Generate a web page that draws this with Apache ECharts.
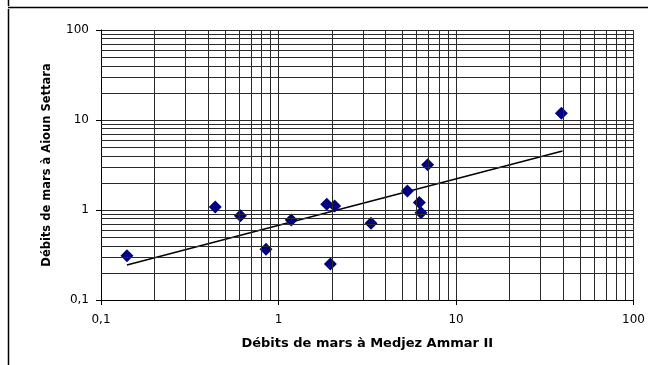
<!DOCTYPE html>
<html>
<head>
<meta charset="utf-8">
<script src="https://cdn.jsdelivr.net/npm/echarts@6/dist/echarts.min.js"></script>
<style>
html,body{margin:0;padding:0;background:#fff;}
#chart{width:648px;height:365px;}
</style>
</head>
<body>
<div id="chart"></div>
<script>
// Data
const medjezAmmar = [0.14, 0.44, 0.61, 0.85, 1.18, 1.87, 2.07, 1.96, 3.32, 5.32, 6.21, 6.35, 6.92, 39.2];
const aiounSettara = [0.31, 1.08, 0.865, 0.366, 0.774, 1.16, 1.11, 0.251, 0.711, 1.63, 1.21, 0.933, 3.19, 11.9];
const trendX = [0.14, 39.8];
const trendY = [0.245, 4.53];
const decades = [0.1, 1, 10];
const minorMultipliers = [2, 3, 4, 5, 6, 7, 8, 9];
const xTitle = 'Débits de mars à Medjez Ammar II';
const yTitle = 'Débits de mars à Aioun Settara';

const minorValues = [];
decades.forEach(d => minorMultipliers.forEach(m => minorValues.push(+(d * m).toPrecision(3))));

const points = medjezAmmar.map((x, i) => [x, aiounSettara[i]]);
const trend = trendX.map((x, i) => [x, trendY[i]]);
const fmt = v => String(v).replace('.', ',');
const gridColor = '#2a2a2a';
const font = 'DejaVu Sans';

const chart = echarts.init(document.getElementById('chart'), null, {renderer: 'canvas'});
chart.setOption({
  animation: false,
  backgroundColor: '#fff',
  grid: {left: 101, right: 14, top: 30, bottom: 65},
  xAxis: {
    type: 'log', logBase: 10, min: 0.1, max: 100,
    name: xTitle, nameLocation: 'middle', nameGap: 37,
    nameTextStyle: {fontFamily: font, fontSize: 13, fontWeight: 'bold', color: '#000'},
    axisLine: {show: true, lineStyle: {color: '#000', width: 1}},
    axisTick: {show: true, length: 5, lineStyle: {color: '#000'}},
    axisLabel: {formatter: fmt, fontFamily: font, fontSize: 12, color: '#000', margin: 14},
    splitLine: {show: true, lineStyle: {color: gridColor, width: 1}},
    minorTick: {show: false}, minorSplitLine: {show: false}
  },
  yAxis: {
    type: 'log', logBase: 10, min: 0.1, max: 100,
    name: yTitle, nameLocation: 'middle', nameGap: 48, nameRotate: 90,
    nameTextStyle: {fontFamily: font, fontSize: 11.5, fontWeight: 'bold', color: '#000'},
    axisLine: {show: true, lineStyle: {color: '#000', width: 1}},
    axisTick: {show: true, length: 5, lineStyle: {color: '#000'}},
    axisLabel: {formatter: fmt, fontFamily: font, fontSize: 12, color: '#000', margin: 12},
    splitLine: {show: true, lineStyle: {color: gridColor, width: 1}},
    minorTick: {show: false}, minorSplitLine: {show: false}
  },
  graphic: [
    {type: 'line', shape: {x1: 8, y1: 7.5, x2: 648, y2: 7.5}, style: {stroke: '#000', lineWidth: 1.5}},
    {type: 'line', shape: {x1: 8.5, y1: 0, x2: 8.5, y2: 6}, style: {stroke: '#000', lineWidth: 1.5}},
    {type: 'line', shape: {x1: 8.5, y1: 9, x2: 8.5, y2: 365}, style: {stroke: '#000', lineWidth: 1.5}}
  ],
  series: [
    {
      type: 'line', data: [], silent: true,
      markLine: {
        silent: true, symbol: 'none', animation: false,
        label: {show: false},
        lineStyle: {color: gridColor, width: 1, type: 'solid'},
        data: minorValues.map(v => ({xAxis: v})).concat(minorValues.map(v => ({yAxis: v})))
      }
    },
    {
      type: 'line', data: trend, showSymbol: false, symbol: 'none',
      lineStyle: {color: '#000', width: 1.5}, z: 3
    },
    {
      type: 'scatter', data: points, symbol: 'diamond', symbolSize: 13,
      itemStyle: {color: '#000080', opacity: 1}, z: 4
    }
  ]
});
</script>
</body>
</html>
